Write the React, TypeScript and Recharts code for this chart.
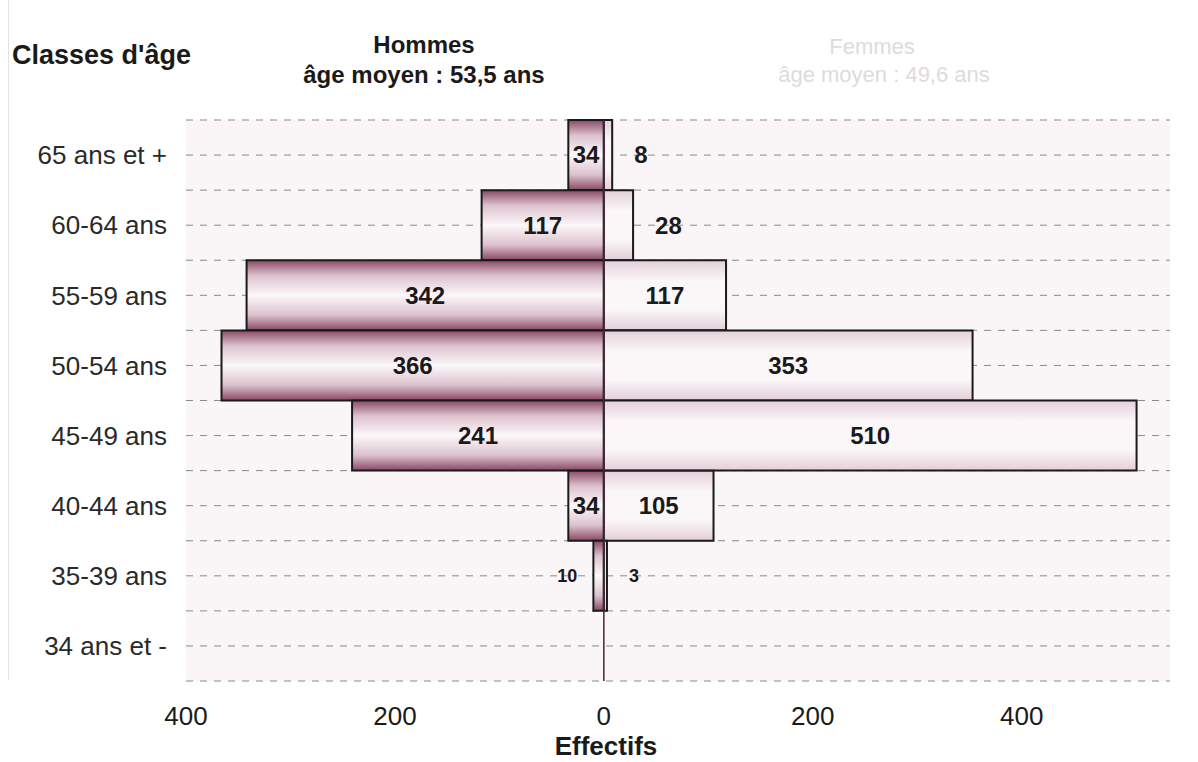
import React from "react";
import {
  BarChart,
  Bar,
  XAxis,
  YAxis,
  CartesianGrid,
  ReferenceLine,
  LabelList,
} from "recharts";

const classes = [
  "65 ans et +",
  "60-64 ans",
  "55-59 ans",
  "50-54 ans",
  "45-49 ans",
  "40-44 ans",
  "35-39 ans",
  "34 ans et -",
];
const hommes = [34, 117, 342, 366, 241, 34, 10, 0];
const femmes = [8, 28, 117, 353, 510, 105, 3, 0];
const xTicks = [-400, -200, 0, 200, 400];

const data = classes.map((classe, i) => ({
  classe,
  hommes: -hommes[i],
  femmes: femmes[i],
}));

const FONT = "'Liberation Sans', Arial, sans-serif";
// the 35-39 row uses smaller labels in the original
const smallRows = new Set(["35-39 ans"]);

function ValueLabel(props: any) {
  const { x, y, width, height, value, index } = props;
  if (!value) return null;
  const v = Math.abs(Number(value));
  const left = Math.min(x, x + width);
  const right = Math.max(x, x + width);
  const w = right - left;
  const cy = y + height / 2;
  const small = smallRows.has(classes[index]);
  let tx = left + w / 2;
  let anchor: "middle" | "start" | "end" = "middle";
  if (w < 32) {
    if (Number(value) < 0) {
      tx = left - 16;
      anchor = "end";
    } else {
      tx = right + 22;
      anchor = "start";
    }
  }
  return (
    <text
      x={tx}
      y={cy}
      dy="0.35em"
      textAnchor={anchor}
      fontFamily={FONT}
      fontWeight="bold"
      fontSize={small ? 18 : 24}
      fill="#1a1a1a"
    >
      {v}
    </text>
  );
}

const titleStyle: React.CSSProperties = {
  position: "absolute",
  fontFamily: FONT,
  fontSize: 24,
  fontWeight: "bold",
  color: "#1a1a1a",
  whiteSpace: "nowrap",
  transform: "translate(-50%, -50%)",
};

export default function App() {
  return (
    <div style={{ position: "absolute", left: 0, top: 0, width: 1198, height: 762, background: "#fff" }}>
      <div style={{ position: "absolute", left: 8, top: 0, width: 1, height: 680, background: "#e6e0e2" }} />
      <BarChart
        width={1198}
        height={762}
        data={data}
        layout="vertical"
        stackOffset="sign"
        barCategoryGap={0}
        margin={{ top: 120, right: 28, bottom: 51, left: 0 }}
      >
        <defs>
          <linearGradient id="gradH" x1="0" y1="0" x2="0" y2="1">
            <stop offset="0%" stopColor="#8a4965" />
            <stop offset="22%" stopColor="#dcc2cd" />
            <stop offset="50%" stopColor="#fcf8fa" />
            <stop offset="78%" stopColor="#dcc2cd" />
            <stop offset="100%" stopColor="#8a4965" />
          </linearGradient>
          <linearGradient id="gradF" x1="0" y1="0" x2="0" y2="1">
            <stop offset="0%" stopColor="#e3cfd8" />
            <stop offset="30%" stopColor="#fbf7f9" />
            <stop offset="70%" stopColor="#fbf7f9" />
            <stop offset="100%" stopColor="#e3cfd8" />
          </linearGradient>
        </defs>
        <CartesianGrid
          vertical={false}
          stroke="#8a8a8a"
          strokeDasharray="7 7"
          fill="#faf5f7"
          horizontalCoordinatesGenerator={({ offset }: any) => {
            const step = offset.height / classes.length / 2;
            return Array.from({ length: classes.length * 2 + 1 }, (_, i) => offset.top + i * step);
          }}
        />
        <XAxis
          type="number"
          domain={[-400, 542]}
          ticks={xTicks}
          tickFormatter={(v: number) => String(Math.abs(v))}
          axisLine={false}
          tickLine={false}
          tickSize={0}
          tickMargin={26}
          tick={{ fontSize: 26, fill: "#1a1a1a", fontFamily: FONT }}
          allowDataOverflow
        />
        <YAxis
          type="category"
          dataKey="classe"
          width={186}
          axisLine={false}
          tickLine={false}
          tickSize={0}
          tickMargin={19}
          tick={{ fontSize: 26, fill: "#2a2a2a", fontFamily: FONT }}
        />
        <Bar
          dataKey="hommes"
          stackId="a"
          fill="url(#gradH)"
          stroke="#1a1a1a"
          strokeWidth={2}
          isAnimationActive={false}
        >
          <LabelList dataKey="hommes" content={ValueLabel} />
        </Bar>
        <Bar
          dataKey="femmes"
          stackId="a"
          fill="url(#gradF)"
          stroke="#1a1a1a"
          strokeWidth={2}
          isAnimationActive={false}
        >
          <LabelList dataKey="femmes" content={ValueLabel} />
        </Bar>
        <ReferenceLine x={0} stroke="#4a2436" strokeWidth={1.5} />
      </BarChart>
      <div style={{ ...titleStyle, left: 12, top: 55, fontSize: 27, transform: "translate(0, -50%)" }}>
        Classes d'âge
      </div>
      <div style={{ ...titleStyle, left: 424, top: 45 }}>Hommes</div>
      <div style={{ ...titleStyle, left: 424, top: 75 }}>âge moyen : 53,5 ans</div>
      <div style={{ ...titleStyle, left: 872, top: 47, fontSize: 22, fontWeight: "normal", color: "#dedbdc" }}>
        Femmes
      </div>
      <div style={{ ...titleStyle, left: 884, top: 75, fontSize: 22, fontWeight: "normal", color: "#dedbdc" }}>
        âge moyen : 49,6 ans
      </div>
      <div style={{ ...titleStyle, left: 606, top: 746, fontSize: 26 }}>Effectifs</div>
    </div>
  );
}
